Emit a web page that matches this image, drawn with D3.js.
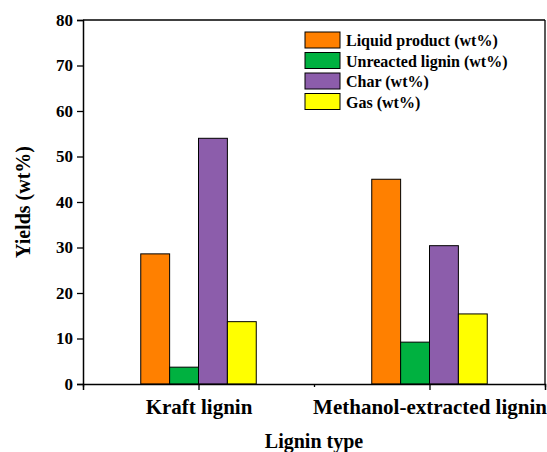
<!DOCTYPE html>
<html>
<head>
<meta charset="utf-8">
<script src="https://cdn.jsdelivr.net/npm/d3@7"></script>
<style>
  body { margin: 0; background: #fff; }
  text { font-family: "Liberation Serif", "Times New Roman", serif; font-weight: bold; fill: #000; }
</style>
</head>
<body>
<div id="chart"></div>
<script>
// data
var categories = ["Kraft lignin", "Methanol-extracted lignin"];
var seriesNames = ["Liquid product (wt%)", "Unreacted lignin (wt%)", "Char (wt%)", "Gas (wt%)"];
var liquid = [28.6, 45.0];
var unreacted = [3.7, 9.2];
var charYield = [54.0, 30.4];
var gas = [13.7, 15.4];
var yTicks = [0, 10, 20, 30, 40, 50, 60, 70, 80];

var colors = ["#ff8000", "#00b140", "#8c5dab", "#ffff00"];
var values = [liquid, unreacted, charYield, gas];

var W = 547, H = 452;
var mLeft = 83, mRight = 545, mTop = 20, mBottom = 384;

var svg = d3.select("#chart").append("svg")
    .attr("width", W)
    .attr("height", H);

// x: categories sit at 1 and 2, axis runs 0.5 .. 2.5
var x = d3.scaleLinear().domain([0.5, 2.5]).range([mLeft, mRight]);
var y = d3.scaleLinear().domain([0, 80]).range([mBottom, mTop]);
var inner = d3.scaleBand().domain(d3.range(seriesNames.length)).range([-0.25, 0.25]);

// bars
categories.forEach(function(c, ci) {
    var g = svg.append("g");
    g.selectAll("rect")
        .data(values.map(function(v, si) { return {s: si, v: v[ci]}; }))
        .enter().append("rect")
        .attr("x", function(d) { return x(ci + 1 + inner(d.s)); })
        .attr("width", function(d) { return x(ci + 1 + inner(d.s) + inner.bandwidth()) - x(ci + 1 + inner(d.s)); })
        .attr("y", function(d) { return y(d.v); })
        .attr("height", function(d) { return y(0) - y(d.v); })
        .style("fill", function(d) { return colors[d.s]; })
        .style("stroke", "#000")
        .style("stroke-width", 1);
});

// frame
svg.append("line").attr("x1", mLeft).attr("x2", mRight).attr("y1", mTop).attr("y2", mTop)
    .style("stroke", "#000").style("stroke-width", 1.3);
svg.append("line").attr("x1", mRight).attr("x2", mRight).attr("y1", mTop).attr("y2", mBottom)
    .style("stroke", "#000").style("stroke-width", 1.3);

// y axis
var yAxis = svg.append("g")
    .attr("transform", "translate(" + mLeft + ",0)")
    .call(d3.axisLeft(y).tickValues(yTicks).tickSize(6).tickPadding(4));
yAxis.select(".domain").style("stroke-width", 1.5);
yAxis.selectAll(".tick line").style("stroke-width", 1.3);
yAxis.selectAll("text").style("font-size", "17px").style("font-family", "Liberation Serif").style("font-weight", "bold");

// x axis: major ticks at categories, minor between
var xAxis = svg.append("g")
    .attr("transform", "translate(0," + mBottom + ")")
    .call(d3.axisBottom(x).tickValues([1, 2]).tickSize(6).tickFormat(function(d) { return categories[d - 1]; }).tickPadding(9));
xAxis.select(".domain").style("stroke-width", 1.5);
xAxis.selectAll(".tick line").style("stroke-width", 1.3);
xAxis.selectAll("text").style("font-size", "21px").style("font-family", "Liberation Serif").style("font-weight", "bold");

var minor = svg.append("g")
    .attr("transform", "translate(0," + mBottom + ")")
    .call(d3.axisBottom(x).tickValues([0.5, 1.5, 2.5]).tickSize(3).tickFormat(""));
minor.select(".domain").remove();
minor.selectAll(".tick line").style("stroke-width", 1.3);

// axis titles
svg.append("text")
    .attr("x", (mLeft + mRight) / 2)
    .attr("y", 448)
    .attr("text-anchor", "middle")
    .style("font-size", "20px")
    .text("Lignin type");

svg.append("text")
    .attr("transform", "translate(30," + ((mTop + mBottom) / 2) + ") rotate(-90)")
    .attr("text-anchor", "middle")
    .style("font-size", "20px")
    .text("Yields (wt%)");

// legend
var legend = svg.append("g").attr("transform", "translate(305,32)");
var rows = legend.selectAll("g").data(seriesNames).enter().append("g")
    .attr("transform", function(d, i) { return "translate(0," + (i * 20.5) + ")"; });
rows.append("rect")
    .attr("width", 35).attr("height", 16)
    .style("fill", function(d, i) { return colors[i]; })
    .style("stroke", "#000").style("stroke-width", 1);
rows.append("text")
    .attr("x", 41).attr("y", 14)
    .style("font-size", "16px")
    .text(function(d) { return d; });
</script>
</body>
</html>
